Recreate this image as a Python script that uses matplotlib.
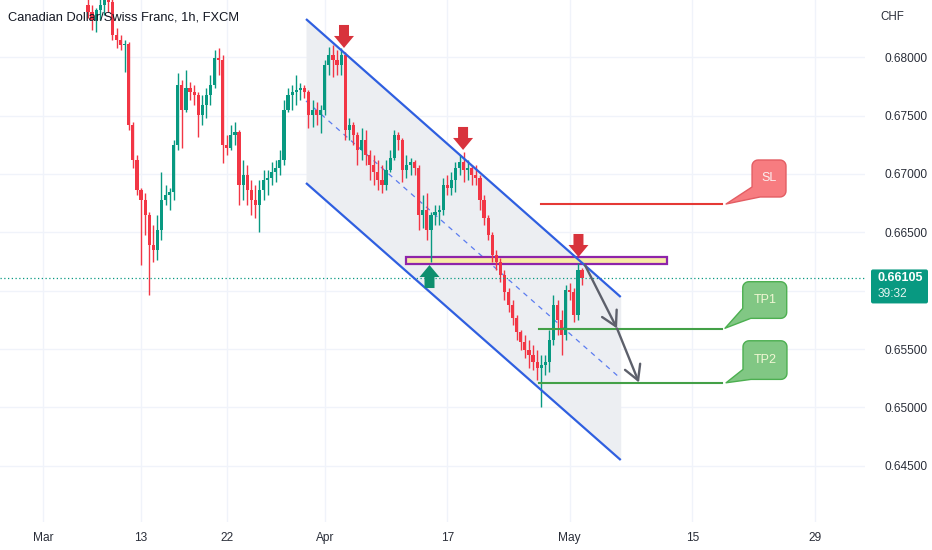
import matplotlib
matplotlib.use('Agg')
import matplotlib.pyplot as plt
import numpy as np
from matplotlib.patches import Polygon, Rectangle, FancyBboxPatch
import matplotlib.transforms as mtrans

plt.rcParams['font.family'] = ['Liberation Sans', 'DejaVu Sans']

# ---------------- data ----------------
title = "Canadian Dollar/Swiss Franc, 1h, FXCM"
currency = "CHF"

bar_t0 = 3.67          # trading-day index of first visible bar (0 = 1 Mar)
bar_step = 1 / 3       # bar spacing in trading days
open0 = 0.68448

highs = [0.68534, 0.68448, 0.68423, 0.68517, 0.68560, 0.68577, 0.68508, 0.68251, 0.68191, 0.68148,
         0.68131, 0.67446, 0.67163, 0.66880, 0.66837, 0.66674, 0.66563, 0.66649, 0.67017, 0.66906,
         0.66880, 0.67291, 0.67866, 0.67806, 0.67891, 0.67788, 0.67763, 0.67703, 0.67677, 0.67737,
         0.67848, 0.68063, 0.68080, 0.68020, 0.67334, 0.67420, 0.67446, 0.67377, 0.67120, 0.67077,
         0.66949, 0.66906, 0.66949, 0.67034, 0.67034, 0.67103, 0.67120, 0.67206, 0.67634, 0.67737,
         0.67763, 0.67848, 0.67780, 0.67763, 0.67720, 0.67634, 0.67617, 0.67591, 0.67977, 0.68088,
         0.68106, 0.68063, 0.68080, 0.68046, 0.67480, 0.67446, 0.67360, 0.67394, 0.67377, 0.67206,
         0.67163, 0.67120, 0.67077, 0.67120, 0.67206, 0.67377, 0.67360, 0.67309, 0.67163, 0.67137,
         0.67120, 0.67077, 0.66820, 0.66837, 0.66674, 0.66734, 0.66734, 0.66966, 0.66991, 0.67017,
         0.67103, 0.67163, 0.67189, 0.67120, 0.67077, 0.67077, 0.66991, 0.66820, 0.66649, 0.66503,
         0.66349, 0.66280, 0.66177, 0.66023, 0.65920, 0.65792, 0.65663, 0.65620, 0.65577, 0.65535,
         0.65492, 0.65449, 0.65449, 0.65663, 0.65963, 0.65920, 0.65834, 0.66049, 0.66066, 0.66023,
         0.66237, 0.66194]
lows = [0.68337, 0.68234, 0.68217, 0.68320, 0.68363, 0.68388, 0.68148, 0.68080, 0.68063, 0.67874,
        0.67377, 0.67051, 0.66820, 0.66220, 0.66477, 0.65963, 0.66246, 0.66263, 0.66434, 0.66734,
        0.66691, 0.66777, 0.67206, 0.67223, 0.67531, 0.67634, 0.67591, 0.67317, 0.67420, 0.67480,
        0.67591, 0.67737, 0.67848, 0.67094, 0.67163, 0.67206, 0.67249, 0.66734, 0.66777, 0.66734,
        0.66649, 0.66623, 0.66503, 0.66777, 0.66820, 0.66906, 0.66931, 0.66991, 0.67077, 0.67531,
        0.67548, 0.67591, 0.67634, 0.67651, 0.67394, 0.67403, 0.67420, 0.67351, 0.67506, 0.67848,
        0.67831, 0.67848, 0.67848, 0.67291, 0.67291, 0.67249, 0.67077, 0.67120, 0.67077, 0.66949,
        0.66906, 0.66863, 0.66837, 0.66863, 0.67017, 0.67120, 0.67206, 0.66931, 0.66966, 0.66991,
        0.66991, 0.66520, 0.66537, 0.66434, 0.66246, 0.66563, 0.66563, 0.66649, 0.66820, 0.66820,
        0.66846, 0.66991, 0.66931, 0.66949, 0.66906, 0.66906, 0.66691, 0.66563, 0.66434, 0.66246,
        0.66177, 0.66074, 0.65920, 0.65817, 0.65706, 0.65577, 0.65492, 0.65423, 0.65337, 0.65320,
        0.65235, 0.65003, 0.65277, 0.65303, 0.65535, 0.65620, 0.65449, 0.65577, 0.65920, 0.65732,
        0.65749, 0.66049]
closes = [0.68388, 0.68320, 0.68405, 0.68448, 0.68491, 0.68474, 0.68191, 0.68148, 0.68106, 0.68114,
          0.67420, 0.67120, 0.66863, 0.66777, 0.66649, 0.66392, 0.66349, 0.66520, 0.66777, 0.66820,
          0.66846, 0.67249, 0.67763, 0.67548, 0.67737, 0.67703, 0.67677, 0.67506, 0.67591, 0.67677,
          0.67763, 0.67994, 0.67977, 0.67249, 0.67223, 0.67334, 0.67360, 0.66906, 0.66991, 0.66863,
          0.66777, 0.66734, 0.66863, 0.66949, 0.66966, 0.67017, 0.67051, 0.67120, 0.67548, 0.67677,
          0.67703, 0.67720, 0.67737, 0.67703, 0.67506, 0.67548, 0.67506, 0.67548, 0.67934, 0.68020,
          0.67977, 0.67934, 0.68020, 0.67377, 0.67420, 0.67334, 0.67206, 0.67291, 0.67163, 0.67077,
          0.67017, 0.66949, 0.66906, 0.67034, 0.67137, 0.67334, 0.67291, 0.67034, 0.67077, 0.67103,
          0.67051, 0.66649, 0.66691, 0.66520, 0.66649, 0.66674, 0.66691, 0.66906, 0.66880, 0.66949,
          0.67051, 0.67103, 0.67034, 0.67051, 0.66991, 0.66966, 0.66777, 0.66623, 0.66477, 0.66306,
          0.66246, 0.66134, 0.65989, 0.65877, 0.65766, 0.65646, 0.65560, 0.65492, 0.65449, 0.65389,
          0.65337, 0.65363, 0.65389, 0.65577, 0.65877, 0.65749, 0.65620, 0.66006, 0.65989, 0.65792,
          0.66177, 0.66105]

date_ticks = [0, 8, 15, 23, 33, 43, 53, 63]
date_labels = ['Mar', '13', '22', 'Apr', '17', 'May', '15', '29']
price_ticks = [0.645, 0.650, 0.655, 0.660, 0.665, 0.670, 0.675, 0.680]
hidden_price_tick = 0.660   # covered by the last-price label in the reference

channel_t = [21.47, 47.16]
channel_upper = [0.68328, 0.65946]
channel_lower = [0.66923, 0.64549]
channel_mid = [0.67626, 0.65247]

zone_t = [29.63, 50.94]
zone_p = [0.66226, 0.66291]

last_price = 0.66105
countdown = "39:32"

sl_price = 0.66740
tp1_price = 0.65676
tp2_price = 0.65213
sl_t = [40.65, 55.43]
tp_t = [40.49, 55.43]

down_arrow_t = [24.57, 34.29, 43.71]
down_arrow_p = [0.68080, 0.67206, 0.66289]
up_arrow_t = [31.55]
up_arrow_p = [0.66220]

path_t = [44.24, 46.86, 48.65]
path_p = [0.66220, 0.65676, 0.65213]

callouts = [
    # text, tip (t, p), box (t_left, t_right, p_top, p_bottom), face, edge, text colour
    ("SL", (55.76, 0.66743), (57.88, 60.65, 0.67120, 0.66803), '#f77c80', '#e35d63', '#fbeff0'),
    ("TP1", (55.67, 0.65678), (57.12, 60.71, 0.66077, 0.65763), '#81c784', '#4caf50', '#f1f7d4'),
    ("TP2", (55.76, 0.65211), (57.14, 60.73, 0.65571, 0.65240), '#81c784', '#4caf50', '#f1f7d4'),
]

# ---------------- figure ----------------
W, H = 932, 550
fig = plt.figure(figsize=(W / 100, H / 100), dpi=100)
fig.patch.set_facecolor('white')
ax = fig.add_axes([0, 28 / H, 865 / W, 522 / H])
ax.set_xlim(-3.51, 67.10)
ax.set_ylim(0.64018, 0.68491)
for s in ax.spines.values():
    s.set_visible(False)

ax.set_xticks(date_ticks, date_labels)
ax.set_yticks(price_ticks, ['' if abs(p - hidden_price_tick) < 1e-9 else f"{p:.5f}"
                            for p in price_ticks])
ax.yaxis.tick_right()
ax.tick_params(axis='y', length=0, pad=14, labelsize=8.6, labelcolor='#2a2e39')
ax.tick_params(axis='x', length=0, pad=7, labelsize=8.6, labelcolor='#2a2e39')
ax.grid(True, color='#f0f3fa', lw=1)
ax.set_axisbelow(True)

# channel
ax.fill_between(channel_t, channel_lower, channel_upper, color='#eceef2', zorder=1, lw=0)
ax.plot(channel_t, channel_mid, color='#5b7cf0', lw=0.9, ls=(0, (4, 4)), zorder=2)

# zone rectangle
ax.add_patch(Rectangle((zone_t[0], zone_p[0]), zone_t[1] - zone_t[0], zone_p[1] - zone_p[0],
                       facecolor='#f8eaa6', edgecolor='#8e24aa', lw=1.6, zorder=2.5))

# candles
n = len(closes)
t = bar_t0 + np.arange(n) * bar_step
c = np.array(closes)
o = np.concatenate([[open0], c[:-1]])
hi = np.array(highs)
lo = np.array(lows)
up = c >= o
cols = np.where(up, '#089981', '#f23645')
ax.vlines(t, lo, hi, colors=cols, lw=1.0, zorder=3)
ax.bar(t, np.abs(c - o), bottom=np.minimum(o, c), width=0.26, color=cols, lw=0, zorder=3)

# channel lines
ax.plot(channel_t, channel_upper, color='#2f5fe0', lw=1.6, zorder=4, solid_capstyle='butt')
ax.plot(channel_t, channel_lower, color='#2f5fe0', lw=1.6, zorder=4, solid_capstyle='butt')

# current price line
ax.axhline(last_price, color='#089981', lw=0.9, ls=(0, (1, 2)), zorder=3.5)

# SL / TP lines
ax.plot(sl_t, [sl_price, sl_price], color='#e53935', lw=1.5, zorder=4)
ax.plot(tp_t, [tp1_price, tp1_price], color='#43a047', lw=1.5, zorder=4)
ax.plot(tp_t, [tp2_price, tp2_price], color='#43a047', lw=1.5, zorder=4)

# projected path arrows
for i in range(len(path_t) - 1):
    ax.annotate('', xy=(path_t[i + 1], path_p[i + 1]), xytext=(path_t[i], path_p[i]),
                arrowprops=dict(arrowstyle='->,head_length=0.75,head_width=0.42', color='#5d606b',
                                lw=1.7, shrinkA=0, shrinkB=0, mutation_scale=14), zorder=5)

ident = mtrans.IdentityTransform()

# block arrows (pixel geometry relative to tip)
down_shape = [(0, 0), (10, 12), (5, 12), (5, 23), (-5, 23), (-5, 12), (-10, 12)]
for ta, pa in zip(down_arrow_t, down_arrow_p):
    px, py = ax.transData.transform((ta, pa))
    verts = [(px + dx, py + dy) for dx, dy in down_shape]
    ax.add_patch(Polygon(verts, closed=True, transform=ident, facecolor='#d8333c',
                         edgecolor='none', zorder=6))
for ta, pa in zip(up_arrow_t, up_arrow_p):
    px, py = ax.transData.transform((ta, pa))
    verts = [(px + dx, py - dy) for dx, dy in down_shape]
    ax.add_patch(Polygon(verts, closed=True, transform=ident, facecolor='#0f8f6e',
                         edgecolor='none', zorder=6))

# callouts
for text, tip, box, fc, ec, tc in callouts:
    tx, ty = ax.transData.transform(tip)
    x0, y1 = ax.transData.transform((box[0], box[2]))
    x1, y0 = ax.transData.transform((box[1], box[3]))
    r = 6
    verts = [(tx, ty), (x0 + 8, y0), (x1 - r, y0)]
    for a in np.linspace(-90, 0, 7):
        verts.append((x1 - r + r * np.cos(np.radians(a)), y0 + r + r * np.sin(np.radians(a))))
    for a in np.linspace(0, 90, 7):
        verts.append((x1 - r + r * np.cos(np.radians(a)), y1 - r + r * np.sin(np.radians(a))))
    for a in np.linspace(90, 180, 7):
        verts.append((x0 + r + r * np.cos(np.radians(a)), y1 - r + r * np.sin(np.radians(a))))
    verts.append((x0, y0 + 10))
    ax.add_patch(Polygon(verts, closed=True, transform=ident, facecolor=fc, edgecolor=ec,
                         lw=1.0, zorder=7, joinstyle='round'))
    ax.text((x0 + x1) / 2, (y0 + y1) / 2, text, transform=ident, ha='center', va='center',
            fontsize=9, color=tc, zorder=8)

# title and currency
fig.text(8 / W, 1 - 18 / H, title, fontsize=9.3, color='#131722', va='center', ha='left')
fig.text(880 / W, 1 - 17 / H, currency, fontsize=8.3, color='#2a2e39', va='center', ha='left')

# last price label on the scale
ylp = ax.transData.transform((0, last_price))[1]
lbl = FancyBboxPatch((871, ylp - 25), 57, 34, boxstyle='round,pad=0,rounding_size=2',
                     transform=ident, facecolor='#089981', edgecolor='none', zorder=5)
fig.add_artist(lbl)
fig.text(878, ylp, f"{last_price:.5f}", transform=ident, fontsize=9, fontweight='bold',
         color='white', va='center', ha='left', zorder=6)
fig.text(878, ylp - 16, countdown, transform=ident, fontsize=8.6, color='#e6f5f1',
         va='center', ha='left', zorder=6)

fig.savefig('out.png', dpi=100)
